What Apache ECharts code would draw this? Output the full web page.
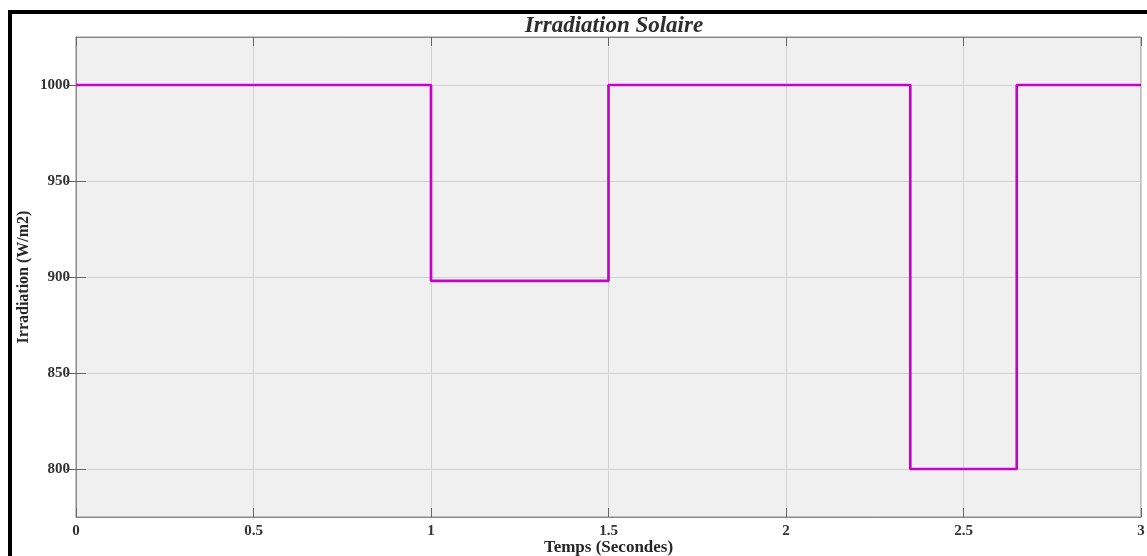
<!DOCTYPE html>
<html>
<head>
<meta charset="utf-8">
<script src="https://cdn.jsdelivr.net/npm/echarts@6/dist/echarts.min.js"></script>
<style>html,body{margin:0;padding:0;background:#fff;}#c{width:1147px;height:556px;}</style>
</head>
<body>
<div id="c"></div>
<script>
// Data
const times = [0, 1, 1.5, 2.35, 2.65, 3];          // seconds, change points
const irradiation = [1000, 898, 1000, 800, 1000, 1000]; // W/m2
const xTicks = [0, 0.5, 1, 1.5, 2, 2.5, 3];
const yTicks = [800, 850, 900, 950, 1000];

const seriesData = times.map((t, i) => [t, irradiation[i]]);
const serif = '"Liberation Serif", "Times New Roman", serif';
const frameColor = '#8a8a8a';
const tickColor = '#666';

const chart = echarts.init(document.getElementById('c'), null, {renderer: 'canvas'});
chart.setOption({
  animation: false,
  backgroundColor: '#ffffff',
  title: {
    text: 'Irradiation Solaire',
    left: 609, top: 10, textAlign: 'center',
    textStyle: {fontFamily: serif, fontSize: 23, fontWeight: 'bold', fontStyle: 'italic', color: '#2e2e2e'}
  },
  grid: {
    left: 76, top: 37, right: 6, bottom: 39,
    outerBoundsMode: 'none', containLabel: false,
    show: true, backgroundColor: '#f0f0f0', borderColor: frameColor, borderWidth: 1
  },
  xAxis: [{
    type: 'value', min: 0, max: 3, interval: 0.5, position: 'bottom',
    name: 'Temps (Secondes)', nameLocation: 'middle', nameGap: 22, nameMoveOverlap: false,
    nameTextStyle: {fontFamily: serif, fontSize: 17, fontWeight: 'bold', color: '#262626'},
    axisLine: {show: true, lineStyle: {color: frameColor, width: 1}},
    axisTick: {show: true, inside: true, length: 9, lineStyle: {color: tickColor}},
    axisLabel: {show: true, margin: 7, fontFamily: serif, fontSize: 15, fontWeight: 'bold', color: '#333',
      formatter: v => xTicks.includes(v) ? String(v) : ''},
    splitLine: {show: true, lineStyle: {color: '#d2d2d2', width: 1}}
  }, {
    type: 'value', min: 0, max: 3, interval: 0.5, position: 'top',
    axisLine: {show: true, lineStyle: {color: frameColor, width: 1}},
    axisTick: {show: true, inside: true, length: 9, lineStyle: {color: tickColor}},
    axisLabel: {show: false}, splitLine: {show: false}
  }],
  yAxis: [{
    type: 'value', min: 775, max: 1025, position: 'left',
    name: 'Irradiation (W/m2)', nameLocation: 'middle', nameGap: 44, nameRotate: 90, nameMoveOverlap: false,
    nameTextStyle: {fontFamily: serif, fontSize: 16, fontWeight: 'bold', color: '#262626'},
    axisLine: {show: true, lineStyle: {color: frameColor, width: 1}},
    axisTick: {show: true, inside: true, length: 10, customValues: yTicks, lineStyle: {color: tickColor}},
    axisLabel: {show: true, margin: 6, customValues: yTicks, fontFamily: serif, fontSize: 15, fontWeight: 'bold', color: '#333',
      formatter: v => String(v)},
    splitLine: {show: true, lineStyle: {color: '#d2d2d2', width: 1}}
  }, {
    type: 'value', min: 775, max: 1025, position: 'right',
    axisLine: {show: true, lineStyle: {color: frameColor, width: 1}},
    axisTick: {show: true, inside: true, length: 10, customValues: yTicks, lineStyle: {color: tickColor}},
    axisLabel: {show: false}, splitLine: {show: false}
  }],
  series: [{
    type: 'line', xAxisIndex: 0, yAxisIndex: 0,
    data: seriesData, step: 'end', showSymbol: false, symbol: 'none',
    lineStyle: {color: '#c800c8', width: 2.7}, z: 5
  }],
  graphic: [
    {type: 'rect', shape: {x: 8, y: 10, width: 1139, height: 4}, style: {fill: '#000'}, z: 100},
    {type: 'rect', shape: {x: 8, y: 10, width: 4, height: 546}, style: {fill: '#000'}, z: 100}
  ]
});
</script>
</body>
</html>
